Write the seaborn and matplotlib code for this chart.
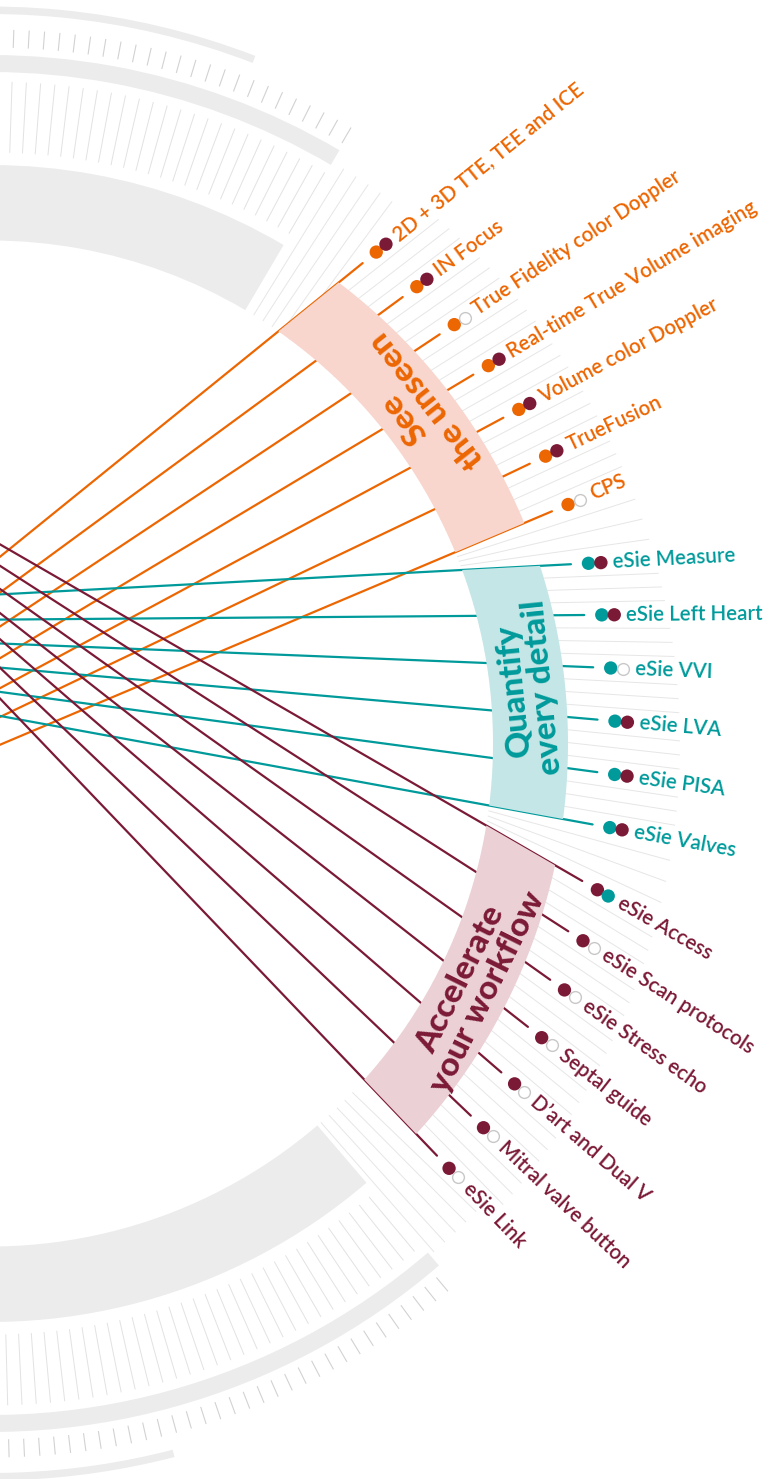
import numpy as np
import pandas as pd
import matplotlib.pyplot as plt
import matplotlib.patches as mpatches
from matplotlib.collections import LineCollection
import seaborn as sns

sns.set_style("white")
plt.rcParams['font.family'] = ['Lato', 'DejaVu Sans']

# --- data (angles in degrees around the circle centre) ---
group_titles = ["See\nthe unseen", "Quantify\nevery detail", "Accelerate\nyour workflow"]

see_labels = ["2D + 3D TTE, TEE and ICE", "IN Focus", "True Fidelity color Doppler",
              "Real-time True Volume imaging", "Volume color Doppler", "TrueFusion", "CPS"]
see_angle = [52.2, 47.25, 42.3, 37.35, 32.4, 27.4, 22.45]
see_source = [205.8, 205.3, 204.9, 204.5, 204.1, 203.7, 203.4]
see_second = ["maroon", "maroon", "none", "maroon", "maroon", "maroon", "none"]

quant_labels = ["eSie Measure", "eSie Left Heart", "eSie VVI", "eSie LVA", "eSie PISA", "eSie Valves"]
quant_angle = [17.15, 12.2, 7.2, 2.25, -2.7, -7.65]
quant_source = [168.9, 168.7, 168.2, 167.8, 167.4, 166.9]
quant_second = ["maroon", "maroon", "none", "maroon", "maroon", "maroon"]

accel_labels = ["eSie Access", "eSie Scan protocols", "eSie Stress echo", "Septal guide",
                "D\u2019art and Dual V", "Mitral valve button", "eSie Link"]
accel_angle = [-13.07, -17.99, -22.87, -27.78, -32.75, -37.74, -42.68]
accel_source = [133.0, 132.5, 132.1, 131.6, 131.1, 130.6, 130.1]
accel_second = ["teal", "none", "none", "none", "none", "none", "none"]

# --- style ---
ORANGE, TEAL, MAROON = "#ec6602", "#009a9b", "#7b1a36"
GROUP_COLOR = {"see": ORANGE, "quantify": TEAL, "accelerate": MAROON}
BAND_COLOR = {"see": "#f9d6cd", "quantify": "#c5e6e6", "accelerate": "#ebd1d5"}
DOT2_COLOR = {"maroon": MAROON, "teal": TEAL}
ARC_GREY = "#ebeceb"

R_CHORD = 608
BAND_IN, BAND_OUT = 503, 578
STEP = 1.2375


def polar(r, deg):
    a = np.deg2rad(deg)
    return np.array([r * np.cos(a), r * np.sin(a)])


def chord(phi, theta):
    s, e = polar(R_CHORD, phi), polar(R_CHORD, theta)
    u = (e - s) / np.linalg.norm(e - s)
    return s, e, u


def at_radius(e, u, r):
    b = e @ u
    t = -b + np.sqrt(b * b + r * r - R_CHORD ** 2)
    return e + t * u


def ang(p):
    return np.degrees(np.arctan2(p[1], p[0]))


labels = pd.DataFrame({
    "label": see_labels + quant_labels + accel_labels,
    "group": ["see"] * 7 + ["quantify"] * 6 + ["accelerate"] * 7,
    "angle": see_angle + quant_angle + accel_angle,
    "source": see_source + quant_source + accel_source,
    "second": see_second + quant_second + accel_second,
})

fig = plt.figure(figsize=(7.72, 14.79), dpi=100)
ax = fig.add_axes([0, 0, 1, 1])

# grey background arcs
for r_in, r_out, top, bottom in [(503, 578.5, 59.5, -49.4), (671.5, 688.5, 59.5, -49.3),
                                 (729.5, 737, 68.9, -75.5)]:
    ax.add_patch(mpatches.Wedge((0, 0), r_out, top, 100, width=r_out - r_in,
                                facecolor=ARC_GREY, edgecolor="none", zorder=1))
    ax.add_patch(mpatches.Wedge((0, 0), r_out, -100, bottom, width=r_out - r_in,
                                facecolor=ARC_GREY, edgecolor="none", zorder=1))

# radial ticks outside the label fan
top0, bot0 = labels["angle"].iloc[0], labels["angle"].iloc[-1]
long_ticks, short_ticks, gap_lines = [], [], []
for k in range(1, 46):
    for a in (top0 + k * STEP, bot0 - k * STEP):
        if k <= 5:
            gap_lines.append([polar(503, a), polar(675, a)])
        else:
            long_ticks.append([polar(591, a), polar(662, a)])
            short_ticks.append([polar(696, a), polar(714, a)])
ax.add_collection(LineCollection(long_ticks, colors="#e2e2e2", linewidths=0.7, zorder=1))
ax.add_collection(LineCollection(short_ticks, colors="#d2d2d2", linewidths=0.8, zorder=1))
ax.add_collection(LineCollection(gap_lines, colors="#e6e6e6", linewidths=0.7, zorder=1))

# fan lines between the labels
fan = []
th, ph = labels["angle"].to_numpy(), labels["source"].to_numpy()
for i in range(len(th) - 1):
    for f in (0.25, 0.5, 0.75):
        s, e, u = chord(ph[i] + f * (ph[i + 1] - ph[i]), th[i] + f * (th[i + 1] - th[i]))
        fan.append([at_radius(e, u, 503), at_radius(e, u, 690)])
ax.add_collection(LineCollection(fan, colors="#e6e6e6", linewidths=0.7, zorder=1))

# coloured chords
rows, dots1, dots2 = [], [], []
for _, row in labels.iterrows():
    s, e, u = chord(row["source"], row["angle"])
    rows += [{"id": row["label"], "group": row["group"], "x": s[0], "y": s[1]},
             {"id": row["label"], "group": row["group"], "x": e[0], "y": e[1]}]
    d1, d2 = e + 17.5 * u, e + 30 * u
    dots1.append({"x": d1[0], "y": d1[1], "group": row["group"]})
    dots2.append({"x": d2[0], "y": d2[1], "kind": row["second"]})
    ax.text(*(e + 42 * u), row["label"], rotation=np.degrees(np.arctan2(u[1], u[0])),
            rotation_mode="anchor", ha="left", va="center", fontsize=14.8,
            fontweight="semibold", color=GROUP_COLOR[row["group"]], zorder=6)
chords = pd.DataFrame(rows)
sns.lineplot(data=chords, x="x", y="y", units="id", estimator=None, sort=False,
             hue="group", palette=GROUP_COLOR, linewidth=1.6, legend=False, ax=ax, zorder=2)

# group bands
for key, title in zip(["see", "quantify", "accelerate"], group_titles):
    grp = labels[labels["group"] == key]
    _, e1, u1 = chord(grp["source"].iloc[0], grp["angle"].iloc[0])
    _, e2, u2 = chord(grp["source"].iloc[-1], grp["angle"].iloc[-1])
    a_out, b_out = ang(at_radius(e1, u1, BAND_OUT)), ang(at_radius(e2, u2, BAND_OUT))
    a_in, b_in = ang(at_radius(e1, u1, BAND_IN)), ang(at_radius(e2, u2, BAND_IN))
    outer = [polar(BAND_OUT, a) for a in np.linspace(a_out, b_out, 60)]
    inner = [polar(BAND_IN, a) for a in np.linspace(b_in, a_in, 60)]
    ax.add_patch(mpatches.Polygon(outer + inner, closed=True, facecolor=BAND_COLOR[key],
                                  edgecolor="none", zorder=3))
    mid = (ang(at_radius(e1, u1, 540)) + ang(at_radius(e2, u2, 540))) / 2
    ax.text(*polar(541, mid), title, rotation=mid + 90, rotation_mode="anchor",
            ha="center", va="center", multialignment="center", fontsize=24,
            fontweight="black", linespacing=1.0, color=GROUP_COLOR[key], zorder=4)

# dots
d1 = pd.DataFrame(dots1)
sns.scatterplot(data=d1, x="x", y="y", hue="group", palette=GROUP_COLOR, s=92,
                linewidth=0, legend=False, ax=ax, zorder=5)
d2 = pd.DataFrame(dots2)
filled = d2[d2["kind"] != "none"]
sns.scatterplot(data=filled, x="x", y="y", hue="kind", palette=DOT2_COLOR, s=92,
                linewidth=0, legend=False, ax=ax, zorder=5)
hollow = d2[d2["kind"] == "none"]
sns.scatterplot(data=hollow, x="x", y="y", color="white", edgecolor="#c8c8c8",
                s=72, linewidth=1.0, legend=False, ax=ax, zorder=5)

ax.set_xlim(10, 782)
ax.set_ylim(-735.5, 743.5)
ax.axis("off")
fig.savefig("out.png", dpi=100)
